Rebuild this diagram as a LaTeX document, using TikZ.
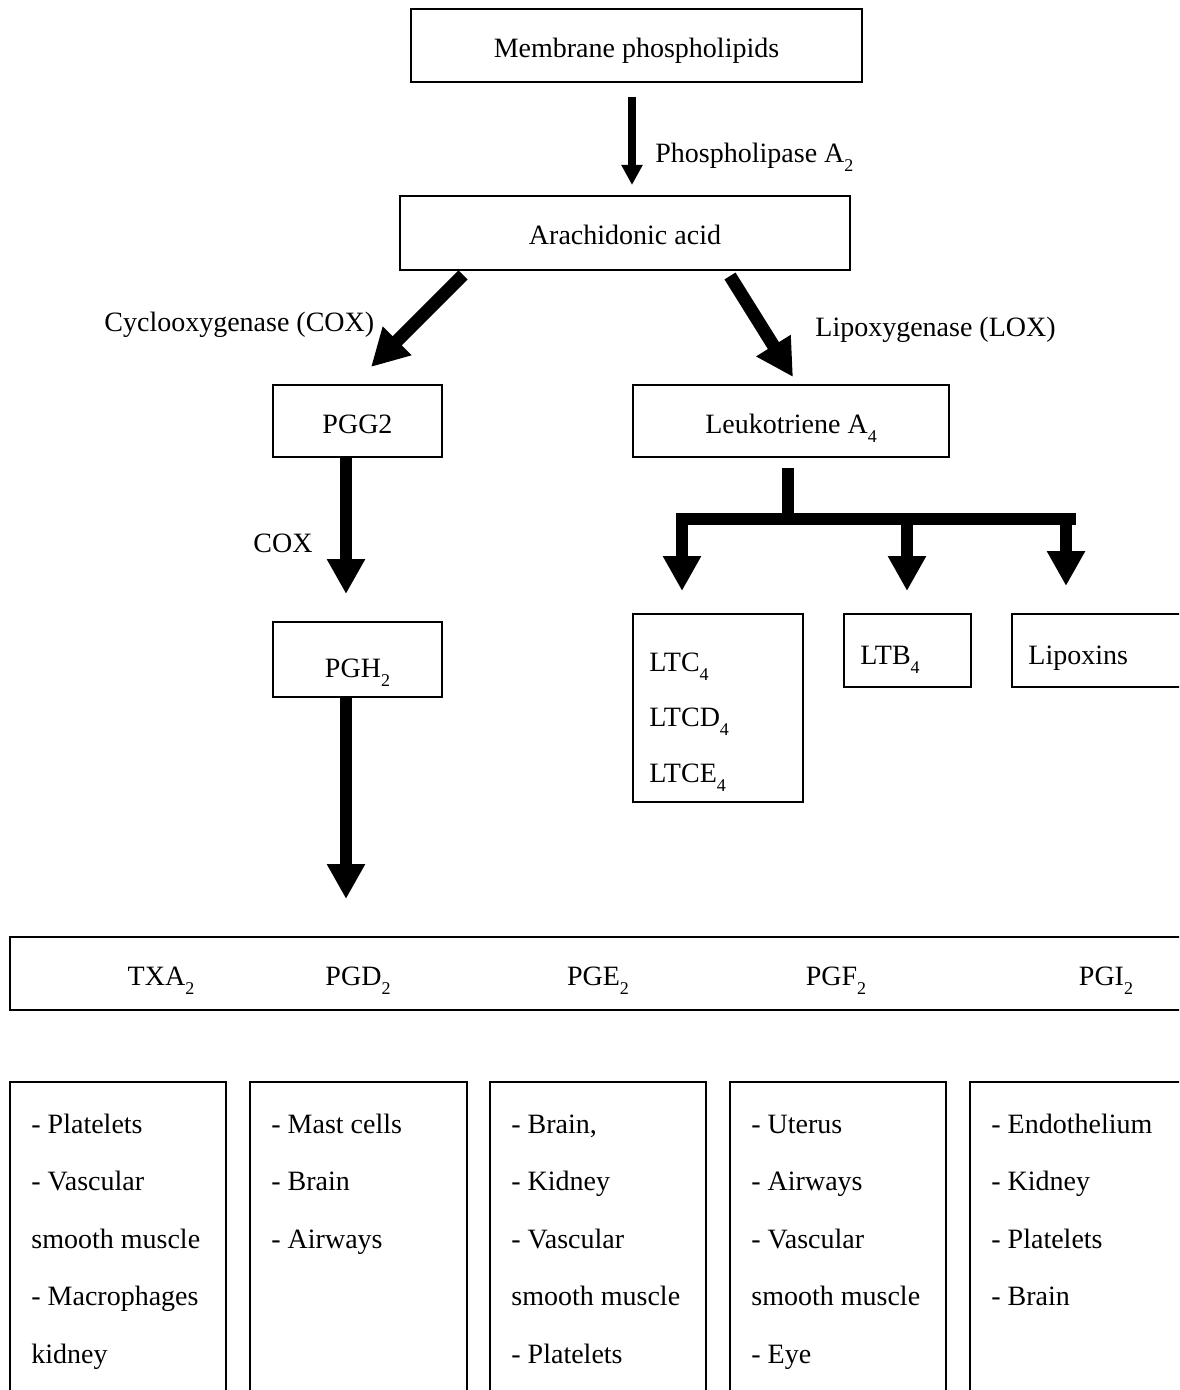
\documentclass[tikz,border=0pt]{standalone}
\usepackage{fontspec}
\setmainfont{Liberation Serif}
\usetikzlibrary{arrows.meta,fit,calc}
\newcommand{\sbx}[1]{\raisebox{-4.5pt}{\fontsize{9}{9}\selectfont #1}}
\begin{document}
\begin{tikzpicture}[x=0.5pt,y=-0.5pt,
  every node/.style={font=\fontsize{14}{17}\selectfont},
  bx/.style={draw, line width=1pt, inner sep=0pt},
  lbl/.style={anchor=base west, inner sep=0pt},
  lblc/.style={anchor=base, inner sep=0pt},
  fatarrow/.style={line width=6pt, -{Triangle[length=17.5pt,width=18pt]}},
  diagarrow/.style={line width=6.5pt, -{Triangle[length=18.5pt,width=19pt]}},
  thinarrow/.style={line width=4pt, -{Triangle[length=10pt,width=10pt]}},
  barline/.style={line width=6pt}]
\useasboundingbox (0,0) rectangle (1179,1390);
\clip (0,0) rectangle (1179,1390);

% main boxes
\node[bx, fit={(411,9) (862,82)}] (mem) {};
\node[bx, fit={(400,196) (850,270)}] (ara) {};
\node[bx, fit={(273,385) (442,457)}] (pgg) {};
\node[bx, fit={(633,385) (949,457)}] (leuk) {};
\node[bx, fit={(273,622) (442,697)}] (pgh) {};
\node[bx, fit={(633,614) (803,802)}] (ltc) {};
\node[bx, fit={(844,614) (971,687)}] (ltb) {};
\node[bx, fit={(1012,614) (1210,687)}] (lpx) {};
\node[bx, fit={(10,937) (1210,1010)}] (pro) {};
\node[bx, fit={(10,1082) (226,1430)}] (b1) {};
\node[bx, fit={(250,1082) (467,1430)}] (b2) {};
\node[bx, fit={(490,1082) (706,1430)}] (b3) {};
\node[bx, fit={(730,1082) (946,1430)}] (b4) {};
\node[bx, fit={(970,1082) (1210,1430)}] (b5) {};

% box texts
\node[lblc] (memt) at ($(mem.center)+(0,12)$) {Membrane phospholipids};
\node[lblc] (arat) at ($(ara.center)+(0,12)$) {Arachidonic acid};
\node[lblc] (pggt) at ($(pgg.center)+(0,12)$) {PGG2};
\node[lblc] (leukt) at ($(leuk.center)+(0,12)$) {Leukotriene A\sbx{4}};
\node[lblc] (pght) at ($(pgh.center)+(0,18)$) {PGH\sbx{2}};

% texts in leukotriene boxes
\node[lbl] (ltc1) at (649,671) {LTC\sbx{4}};
\node[lbl] (ltc2) at (649,726) {LTCD\sbx{4}};
\node[lbl] (ltc3) at (649,782) {LTCE\sbx{4}};
\node[lbl] (ltbt) at (860,664) {LTB\sbx{4}};
\node[lbl] (lpxt) at (1028,664) {Lipoxins};

% prostanoids row
\node[lblc] (txa) at (161,985) {TXA\sbx{2}};
\node[lblc] (pgd) at (358,985) {PGD\sbx{2}};
\node[lblc] (pge) at (598,985) {PGE\sbx{2}};
\node[lblc] (pgf) at (836,985) {PGF\sbx{2}};
\node[lblc] (pgi) at (1106,985) {PGI\sbx{2}};

% enzyme labels
\node[lbl] (plab) at (655,163) {Phospholipase A\sbx{2}};
\node[lbl] (coxl) at (104,331) {Cyclooxygenase (COX)};
\node[lbl] (loxl) at (815,336) {Lipoxygenase (LOX)};
\node[lbl] (cox2) at (253,552) {COX};

% arrows
\draw[thinarrow] ([shift={(-4.5,14)}]mem.south) -- ([shift={(7,-10)}]ara.north);
\draw[diagarrow] ([shift={(-162,4)}]ara.south) -- ([shift={(13.5,-17)}]pgg.north);
\draw[diagarrow] ([shift={(105,5)}]ara.south) -- ([shift={(2,-7)}]leuk.north);
\draw[fatarrow] ([shift={(-11.5,0)}]pgg.south) -- ([shift={(-11.5,-27)}]pgh.north);
\draw[fatarrow] ([shift={(-11.5,0)}]pgh.south) -- ($(pgh.south |- pro.north)+(-11.5,-37)$);

% leukotriene branching
\coordinate (bj) at (788,519);
\coordinate (bl) at (676,519);
\coordinate (br) at (1076,519);
\draw[barline] ([shift={(-3,10)}]leuk.south) -- (bj);
\draw[barline] (bl) -- (br);
\draw[fatarrow] ([shift={(6,-6)}]bl) -- ([shift={(-36,-22)}]ltc.north);
\draw[fatarrow] ([shift={(119,-6)}]bj) -- ([shift={(-0.5,-22)}]ltb.north);
\draw[fatarrow] ([shift={(-10,-6)}]br) -- ([shift={(-45,-27)}]lpx.north);

% tissue lists
\node[lbl] (b1a) at (31,1133) {- Platelets};
\node[lbl] (b1b) at (31,1190.5) {- Vascular};
\node[lbl] (b1c) at (31,1248) {smooth muscle};
\node[lbl] (b1d) at (31,1305.5) {- Macrophages};
\node[lbl] (b1e) at (31,1363) {kidney};

\node[lbl] (b2a) at (271,1133) {- Mast cells};
\node[lbl] (b2b) at (271,1190.5) {- Brain};
\node[lbl] (b2c) at (271,1248) {- Airways};

\node[lbl] (b3a) at (511,1133) {- Brain,};
\node[lbl] (b3b) at (511,1190.5) {- Kidney};
\node[lbl] (b3c) at (511,1248) {- Vascular};
\node[lbl] (b3d) at (511,1305.5) {smooth muscle};
\node[lbl] (b3e) at (511,1363) {- Platelets};

\node[lbl] (b4a) at (751,1133) {- Uterus};
\node[lbl] (b4b) at (751,1190.5) {- Airways};
\node[lbl] (b4c) at (751,1248) {- Vascular};
\node[lbl] (b4d) at (751,1305.5) {smooth muscle};
\node[lbl] (b4e) at (751,1363) {- Eye};

\node[lbl] (b5a) at (991,1133) {- Endothelium};
\node[lbl] (b5b) at (991,1190.5) {- Kidney};
\node[lbl] (b5c) at (991,1248) {- Platelets};
\node[lbl] (b5d) at (991,1305.5) {- Brain};
\end{tikzpicture}
\end{document}
